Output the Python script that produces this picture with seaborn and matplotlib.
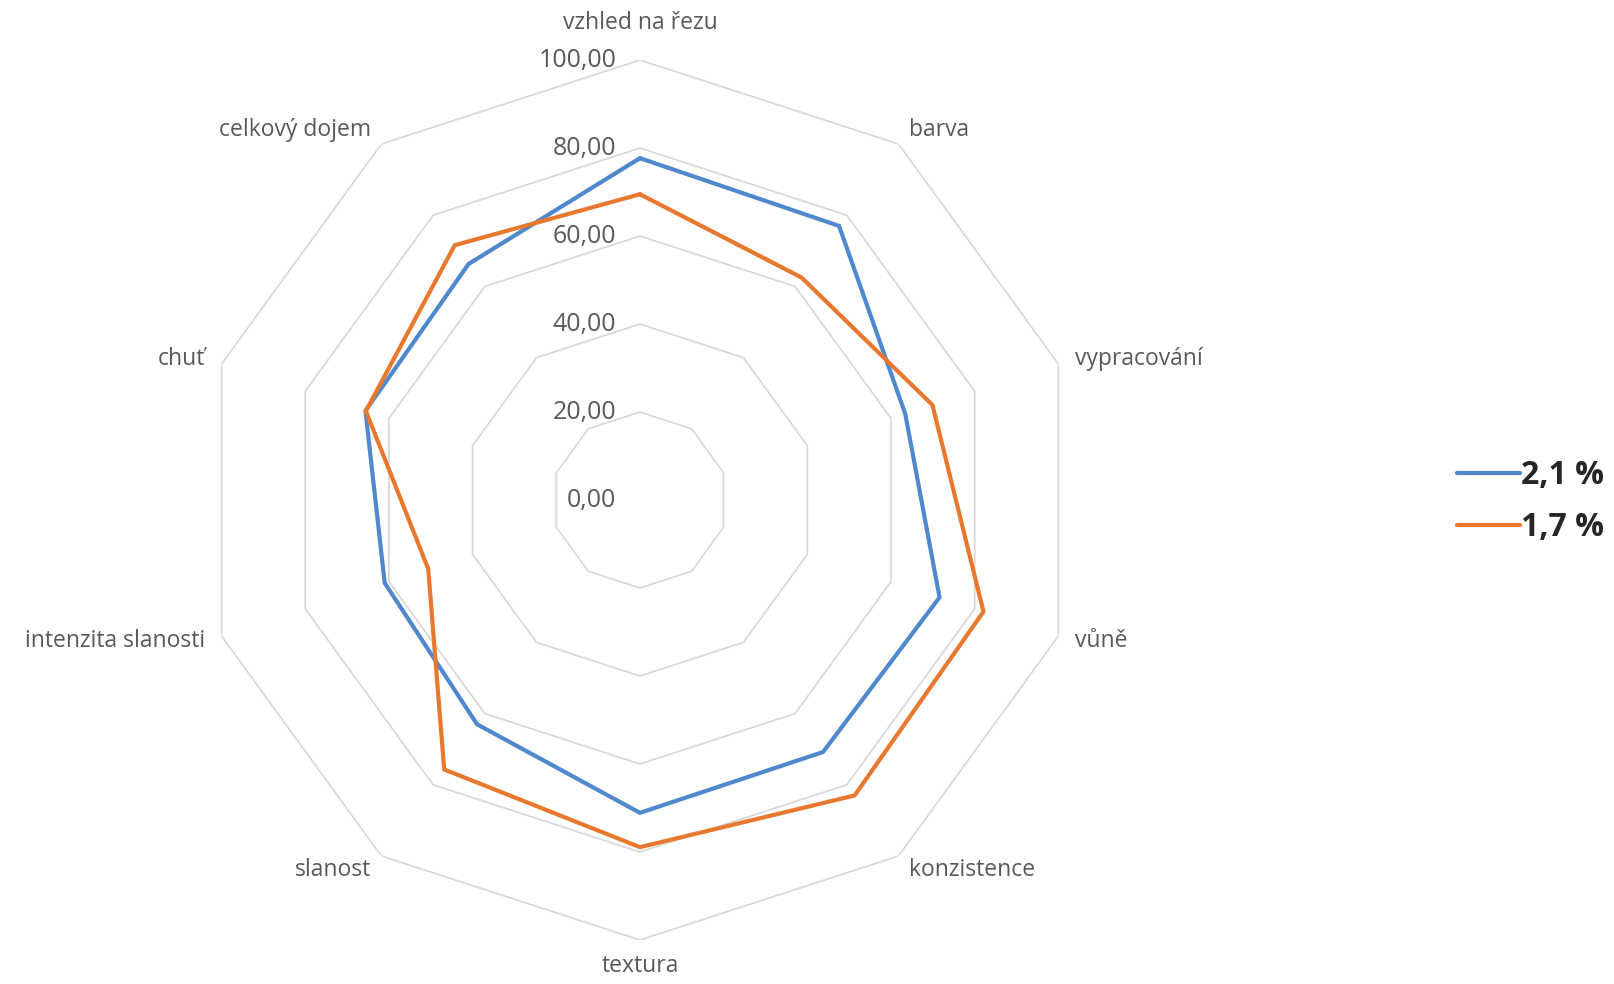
import numpy as np
import pandas as pd
import matplotlib
matplotlib.use("Agg")
import matplotlib.pyplot as plt
import seaborn as sns

# ---------------- DATA ----------------
categories = ["vzhled na řezu", "barva", "vypracování", "vůně", "konzistence",
              "textura", "slanost", "intenzita slanosti", "chuť", "celkový dojem"]
series_names = ["2,1 %", "1,7 %"]
values_21 = [77.7, 77.0, 63.4, 71.6, 70.8, 71.1, 63.0, 61.0, 65.6, 66.3]
values_17 = [69.5, 62.5, 69.9, 82.1, 83.0, 78.9, 75.7, 50.6, 65.5, 71.6]
ticks = [0, 20, 40, 60, 80, 100]
tick_labels = ["0,00", "20,00", "40,00", "60,00", "80,00", "100,00"]
# --------------------------------------

colors = ["#4F88CC", "#E9782F"]
text_gray = "#595959"
grid_gray = "#D9D9D9"

sns.set_theme(style="white")
plt.rcParams["font.family"] = ["Open Sans", "DejaVu Sans"]

n = len(categories)
theta = np.linspace(0, 2 * np.pi, n, endpoint=False)

rows = []
for name, vals in zip(series_names, [values_21, values_17]):
    for t, v in zip(list(theta) + [2 * np.pi], list(vals) + [vals[0]]):
        rows.append({"theta": t, "value": v, "series": name})
df = pd.DataFrame(rows)

fig = plt.figure(figsize=(16.14, 9.84), dpi=100)
ax = fig.add_axes([0.1239, 0.0447, 0.5452, 0.8943], projection="polar")
ax.set_theta_offset(np.pi / 2)
ax.set_theta_direction(-1)

# decagon grid instead of circles
ring_theta = list(theta) + [2 * np.pi]
for lvl in ticks[1:]:
    ax.plot(ring_theta, [lvl] * (n + 1), color=grid_gray, lw=1.3, zorder=1)

sns.lineplot(data=df, x="theta", y="value", hue="series", hue_order=series_names,
             palette=colors, sort=False, linewidth=3, ax=ax, zorder=3)

ax.set_ylim(0, 100)
ax.set_xticks([])
ax.set_yticks([])
ax.grid(False)
ax.spines["polar"].set_visible(False)
ax.set_xlabel("")
ax.set_ylabel("")

# value labels along the top axis
for lvl, lab in zip(ticks, tick_labels):
    ax.annotate(lab, xy=(0, lvl), xytext=(-17, 0), textcoords="offset points",
                ha="right", va="center", fontsize=18, color=text_gray)

# category labels
for t, lab in zip(theta, categories):
    ang = np.pi / 2 - t
    x, y = np.cos(ang), np.sin(ang)
    if abs(x) < 0.01:
        r = 108.5 if y > 0 else 106
        ax.text(t, r, lab, ha="center", va="center", fontsize=16.5, color=text_gray)
    else:
        ha = "left" if x > 0 else "right"
        ax.text(t, 104, lab, ha=ha, va="center", fontsize=16.5, color=text_gray)

handles, labels = ax.get_legend_handles_labels()
ax.legend(handles, labels, loc="center left", bbox_to_anchor=(0.903, 0.49),
          bbox_transform=fig.transFigure, frameon=False, handlelength=1.95,
          handletextpad=0.05, labelspacing=0.6, borderpad=0, borderaxespad=0,
          prop={"weight": "bold", "size": 23})

fig.savefig("out.png", dpi=100, facecolor="white")
